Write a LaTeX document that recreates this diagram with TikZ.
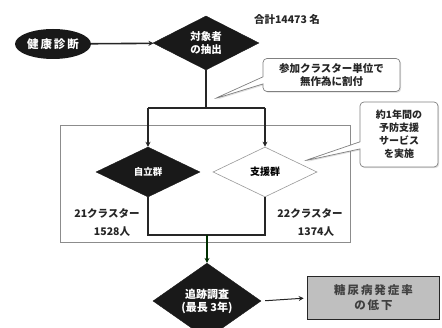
\documentclass[tikz,border=0pt]{standalone}
\usepackage{fontspec}
\setmainfont{Noto Sans CJK JP}
\usetikzlibrary{shapes.geometric,shapes.callouts,arrows.meta,shadows}
\tikzset{
  darkdia/.style={diamond, fill=black!90, draw=black!90, text=white, inner sep=0pt, align=center, font=\fontsize{10.5}{12.5}\selectfont\bfseries},
  lightdia/.style={diamond, fill=white, draw=black!40, line width=0.6pt, text=black, inner sep=0pt, align=center, font=\fontsize{10}{12}\selectfont\bfseries},
  conn/.style={line width=1.6pt, black!85},
  arr/.style={conn, -{Stealth[length=5pt,width=5pt]}},
  bubble/.style={rectangle callout, rounded corners=4pt, draw=black!50, fill=white, line width=0.7pt, align=center, inner sep=2pt, font=\fontsize{10.5}{13}\selectfont\bfseries, text=black!85, drop shadow={opacity=0.25, shadow xshift=1.2pt, shadow yshift=-1.2pt}},
  lbl/.style={font=\fontsize{10.5}{12}\selectfont\bfseries, text=black!85, inner sep=0pt},
}
\begin{document}
\begin{tikzpicture}[x=1pt,y=-1pt]
\useasboundingbox (0,0) rectangle (442,328);
% frame
\node[draw=black!45, line width=0.6pt, minimum width=290pt, minimum height=117pt, inner sep=0pt] (frame) at (205,183.5) {};
% top part
\node[ellipse, fill=black!90, text=white, minimum width=76pt, minimum height=30pt, inner sep=0pt, font=\fontsize{11.5}{12}\selectfont\bfseries] (kenshin) at (53,44) {健\,康\,診\,断};
\node[darkdia, minimum width=106pt, minimum height=50pt] (taisho) at (206,43) {対象者\\の抽出};
\node[lbl] (total) at (287,19) {合計14473 名};
\coordinate (split) at (206,108);
\coordinate (sl) at (148,108);
\coordinate (sr) at (265,108);
% groups
\node[darkdia, minimum width=104pt, minimum height=50pt, font=\fontsize{9.5}{11}\selectfont\bfseries] (jiritsu) at (148,172) {自立群};
\node[lightdia, minimum width=104pt, minimum height=50pt] (shien) at (265,172) {支援群};
\coordinate (bl) at (148,235);
\coordinate (br) at (265,235);
\coordinate (bm) at (207,235);
% follow-up
\node[darkdia, minimum width=108pt, minimum height=54pt, font=\fontsize{11}{13}\selectfont\bfseries] (tsuiseki) at (207,301) {追跡調査\\(最長 3年)};
\node[rectangle, draw=black!85, fill=black!25, line width=1.6pt, minimum width=132pt, minimum height=43pt, align=center, font=\fontsize{11.5}{15}\selectfont\bfseries, text=black!75] (outcome) at (373.5,298) {糖\,尿\,病\,発\,症\,率\\の\,低\,下};
% labels
\node[lbl] (c21) at (107,213) {21クラスター};
\node[lbl] (n21) at (112,232) {1528人};
\node[lbl] (c22) at (310,213) {22クラスター};
\node[lbl] (n22) at (316,232) {1374人};
% callouts
\coordinate (p1) at (214,99);
\coordinate (p2) at (304,161);
\node[bubble, minimum width=137pt, minimum height=33pt, callout absolute pointer={(p1)}] (call1) at (331.5,75) {参加クラスター単位で\\無作為に割付};
\node[bubble, minimum width=78pt, minimum height=65pt, callout absolute pointer={(p2)}, font=\fontsize{10}{13}\selectfont\bfseries] (call2) at (399,134.5) {約1年間の\\予防支援\\サービス\\を実施};
% connectors
\draw[arr] (kenshin) -- (taisho);
\draw[conn] (taisho.south) -- (split);
\draw[conn] (sl) -- (sr);
\draw[arr] (sl) -- (jiritsu.north);
\draw[arr] (sr) -- (shien.north);
\draw[conn, line join=miter] (jiritsu.south) -- (bl) -- (br) -- (shien.south);
\draw[arr, draw=black!70!green!60!black] (bm) -- (tsuiseki.north);
\draw[arr, line width=1pt, shorten >=3pt, shorten <=4pt] (tsuiseki.east) -- (outcome.west);
\end{tikzpicture}
\end{document}
